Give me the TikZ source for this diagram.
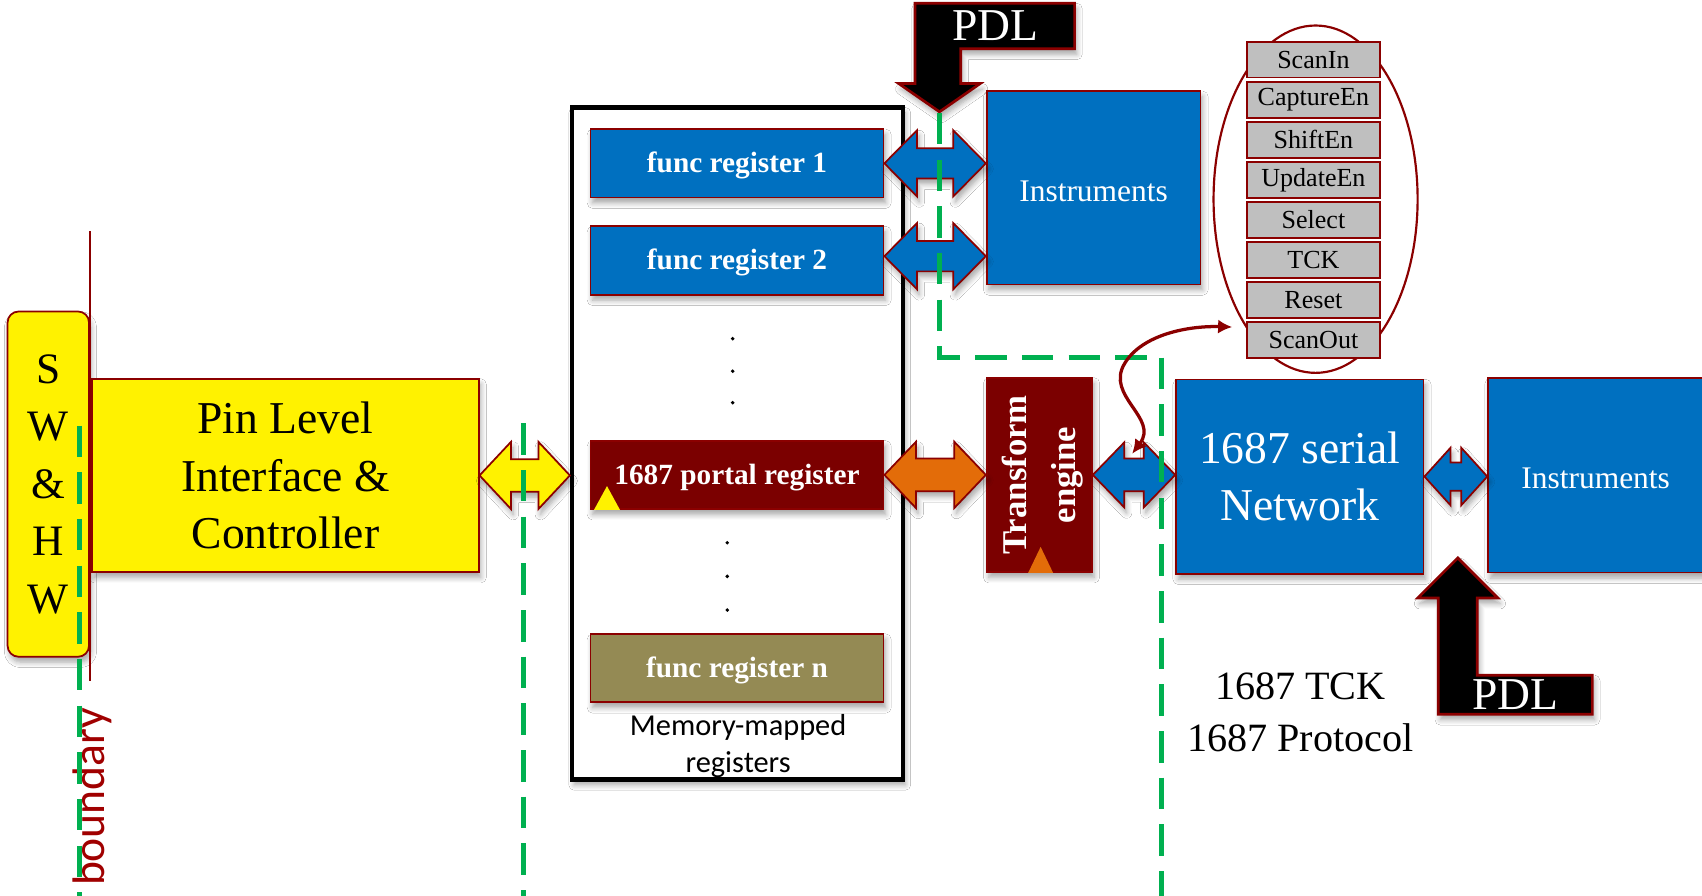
\documentclass[tikz,border=0pt]{standalone}
\usepackage{fontspec}
\setmainfont{Liberation Serif}
\newfontfamily\labelsans{Carlito}
\usetikzlibrary{arrows.meta,shadows.blur,calc}

\definecolor{dred}{HTML}{8B0000}
\definecolor{bred}{HTML}{A00000}
\definecolor{boxblue}{HTML}{0070C0}
\definecolor{portred}{HTML}{7B0000}
\definecolor{oliveboxc}{HTML}{948A54}
\definecolor{orng}{HTML}{E36C09}
\definecolor{grn}{HTML}{00B050}
\definecolor{greybox}{HTML}{BFBFBF}

\tikzset{
  softshadow/.style={blur shadow={shadow xshift=2pt, shadow yshift=-5pt, shadow blur radius=5pt, shadow blur steps=6, shadow opacity=35}},
  blk/.style={draw=dred, line width=1.6pt, inner sep=0pt, softshadow},
  reg/.style={blk, minimum width=270pt, minimum height=63pt, text=white, text height=17pt, text depth=0pt,
              font=\fontsize{27}{30}\selectfont\bfseries},
  bigbox/.style={blk, fill=boxblue, text=white},
  sig/.style={draw=dred, line width=1.6pt, fill=greybox, minimum width=122pt, minimum height=33pt, inner sep=0pt, font=\fontsize{24}{28}\selectfont},
  dashline/.style={draw=grn, line width=4.5pt, dash pattern=on 29pt off 14pt},
  blockarrow/.style={draw=dred, line width=1.6pt, line join=miter, softshadow},
  pdlshape/.style={fill=black, draw=dred, line width=2.5pt, softshadow},
  pdltext/.style={text=white, font=\fontsize{42}{42}\selectfont},
}

% block double arrow: fill, left tip, right tip, head half height, shaft half height, head length
\newcommand{\blockarrow}[6]{%
  \path[blockarrow, fill=#1] let \p1=#2, \p2=#3 in
    (\x1,\y1) -- (\x1+#6pt,\y1+#4pt) -- (\x1+#6pt,\y1+#5pt) -- (\x2-#6pt,\y1+#5pt)
    -- (\x2-#6pt,\y1+#4pt) -- (\x2,\y1) -- (\x2-#6pt,\y1-#4pt) -- (\x2-#6pt,\y1-#5pt)
    -- (\x1+#6pt,\y1-#5pt) -- (\x1+#6pt,\y1-#4pt) -- cycle;}

\begin{document}
\begin{tikzpicture}[x=1pt,y=-1pt]
\useasboundingbox (0,0) rectangle (1568,825);
\fill[white] (0,0) rectangle (1568,825);

% software / hardware side
\node[blk, fill=yellow, rounded corners=10pt, minimum width=75pt, minimum height=318pt,
      align=center, font=\fontsize{40}{53}\selectfont] (swhw) at (44.5,446) {S\\W\\\&\\H\\W};
\draw[dred, line width=2pt] (83,213) -- (83,627);
\node[rotate=90, text=bred, font=\labelsans\fontsize{42}{42}\selectfont] (bnd) at (85,734) {boundary};

\node[blk, fill=yellow, minimum width=356pt, minimum height=178pt, align=center,
      font=\fontsize{42}{53}\selectfont] (pin) at (263,438) {Pin Level\\Interface \&\\Controller};

% memory-mapped register block
\node[draw=black, line width=4pt, fill=white, minimum width=305pt, minimum height=619pt, softshadow] (mem) at (679.5,408.5) {};
\node[reg, fill=boxblue] (fr1) at (679,150.5) {func register 1};
\node[reg, fill=boxblue] (fr2) at (679,240) {func register 2};
\node[reg, fill=portred] (portal) at (679,437.5) {1687 portal register};
\node[reg, fill=oliveboxc] (frn) at (679,615.5) {func register n};
\fill[yellow] ($(portal.south west)+(4,0)$) -- ++(24,0) -- ++(-12,-22) -- cycle;
\foreach \yy in {312,342,371} \fill (675,\yy) circle (1.8);
\foreach \yy in {500,531,562} \fill (670,\yy) circle (1.8);
\node[align=center, font=\labelsans\fontsize{28}{34}\selectfont] (memlbl) at (680,687) {Memory-mapped\\registers};

% instruments and transform engine
\node[bigbox, minimum width=197pt, minimum height=178pt, text height=25pt, font=\fontsize{29}{34}\selectfont] (instA) at (1007.5,173) {Instruments};
\node[blk, fill=portred, minimum width=97pt, minimum height=179pt] (tr) at (957.5,437.5) {};
\node[rotate=90, align=center, text=white, font=\fontsize{32}{45}\selectfont\bfseries] (trtxt) at ([xshift=3pt]tr.center) {Transform\\engine};
\fill[orng] ($(tr.south west)+(39,0)$) -- ++(23,0) -- ++(-11.5,-24) -- cycle;

\node[bigbox, minimum width=228pt, minimum height=179pt, align=center, font=\fontsize{42}{52}\selectfont] (net) at (1197.5,439) {1687 serial\\Network};
\node[bigbox, minimum width=198pt, minimum height=179pt, text height=25pt, font=\fontsize{29}{34}\selectfont] (instB) at (1470,438) {Instruments};

% 1687 signal set
\draw[dred, line width=2pt] (1212,183.5) ellipse [x radius=94, y radius=160];
\foreach \nm/\lbl [count=\i from 0] in {si/ScanIn, ce/CaptureEn, se/ShiftEn, ue/UpdateEn, sel/Select, tck/TCK, rst/Reset, so/ScanOut}
  \node[sig] (\nm) at (1210,55+36.9*\i) {\lbl};

\node[align=center, font=\fontsize{37}{48}\selectfont] (tcklbl) at (1198,656) {1687 TCK\\1687 Protocol};

% PDL inputs
\path[pdlshape] (843,3) -- (990,3) -- (990,45) -- (885,45) -- (885,77) -- (903,77) -- (865.5,103) -- (828,77) -- (843,77) -- cycle;
\node[pdltext] (pdlA) at (917,24) {PDL};
\coordinate (pdltip) at (865.5,104);
\path[pdlshape] (1343,514) -- (1380,551) -- (1361,551) -- (1361,622) -- (1467,622) -- (1467,658) -- (1325,658) -- (1325,551) -- (1306,551) -- cycle;
\node[pdltext] (pdlB) at (1396,640) {PDL};

% block arrows
\blockarrow{yellow}{(pin.east)}{(mem.west |- pin.east)}{31}{15}{29}
\blockarrow{boxblue}{(fr1.east)}{(instA.west |- fr1.east)}{30.5}{14}{30}
\coordinate (a2) at ([yshift=4pt]fr2.east);
\blockarrow{boxblue}{(a2)}{(instA.west |- a2)}{30.5}{14}{30}
\blockarrow{orng}{(portal.east)}{(tr.west |- portal.east)}{30.5}{15}{29}
\blockarrow{boxblue}{(tr.east)}{(net.west |- tr.east)}{30}{15}{29}
\blockarrow{boxblue}{(net.east)}{(instB.west |- net.east)}{26.5}{13}{24}

% boundaries
\draw[dashline] (73,392) -- (73,825);
\draw[dashline] (482,390) -- (482,825);
\draw[dashline] (pdltip) -- (865.5,329) -- (1070,329) -- (1070,825);

% signal mapping
\coordinate (bendtip) at (1043,418);
\draw[dred, line width=3pt, {Latex[length=13pt,width=13pt]}-{Latex[length=13pt,width=13pt]}]
  (bendtip) .. controls (1068,385) and (1018,365) .. (1036,335)
  .. controls (1052,308) and (1095,300) .. ($(so.west)+(-13,-12)$);
\end{tikzpicture}
\end{document}
